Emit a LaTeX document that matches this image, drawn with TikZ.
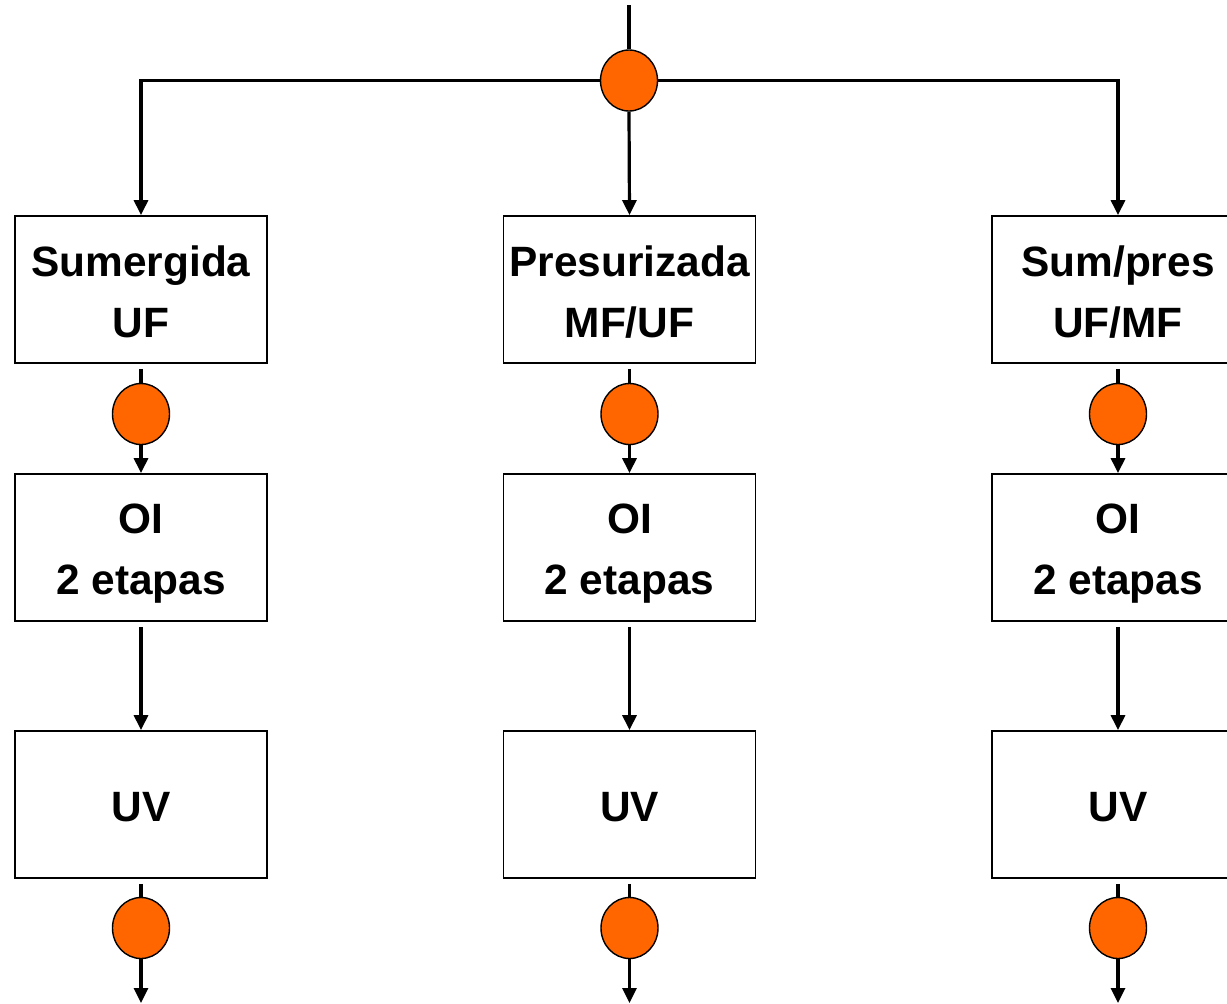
\documentclass[tikz,border=0pt]{standalone}
\usepackage{fontspec}
\setmainfont{Liberation Sans}
\usetikzlibrary{arrows.meta,shapes.geometric}
\definecolor{dot}{HTML}{FF6600}
\newcommand\mystrut{\rule[-3.5pt]{0pt}{24pt}}
\begin{document}
\begin{tikzpicture}[x=0.5pt,y=-0.5pt,
  box/.style={draw,line width=0.9pt,fill=white,minimum width=126pt,minimum height=73.5pt,inner sep=0pt,align=center,font=\fontsize{21.2}{30.5}\selectfont\bfseries},
  dotn/.style={draw,line width=0.7pt,fill=dot,ellipse,minimum width=28.5pt,minimum height=30.5pt,inner sep=0pt},
  wire/.style={line width=1.6pt},
  arr/.style={wire,-{Triangle[length=7.5pt,width=7pt]}}]
\useasboundingbox (0,0) rectangle (1227,1003);
% top
\coordinate (top) at (629,5);
\node[dotn] (c0) at (629,80.5) {};
% boxes
\foreach \c/\x in {1/141,2/629.5,3/1118}{
  \node[box] (b2\c) at (\x,547.5) {\mystrut OI\\2 etapas\mystrut};
  \node[box] (b3\c) at (\x,804.5) {\mystrut UV\mystrut};
  \node[dotn] (c1\c) at (\x,414) {};
  \node[dotn] (c2\c) at (\x,928) {};
  \coordinate (end\c) at (\x,1003);
}
\node[box] (b11) at (141,289.5) {\mystrut Sumergida\\UF\mystrut};
\node[box] (b12) at (629.5,289.5) {\mystrut Presurizada\\MF/UF\mystrut};
\node[box] (b13) at (1118,289.5) {\mystrut Sum/pres\\UF/MF\mystrut};
% connectors
\draw[wire] (top) -- (c0.north);
\draw[arr] (c0.west) -| (b11.north);
\draw[arr] (c0.east) -| (b13.north);
\draw[arr] (c0.south) -- (b12.north);
\foreach \c in {1,2,3}{
  \draw[wire] ([yshift=-2.5pt]b1\c.south) -- (c1\c.north);
  \draw[arr] (c1\c.south) -- (b2\c.north);
  \draw[arr] ([yshift=-2.5pt]b2\c.south) -- (b3\c.north);
  \draw[wire] ([yshift=-2.5pt]b3\c.south) -- (c2\c.north);
  \draw[arr] (c2\c.south) -- (end\c);
}
\end{tikzpicture}
\end{document}
